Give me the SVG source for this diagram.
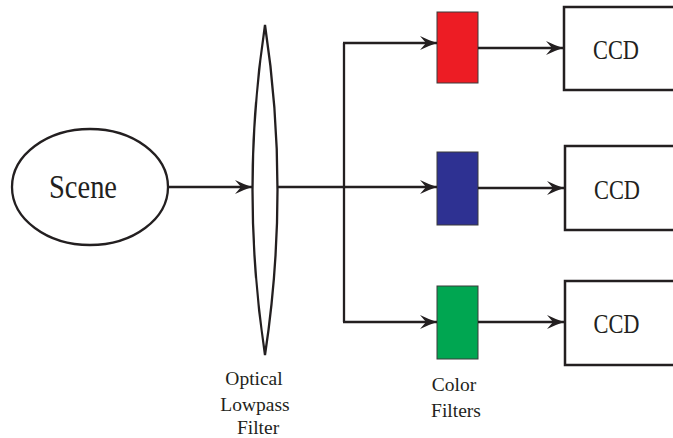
<svg xmlns="http://www.w3.org/2000/svg" width="673" height="438" viewBox="0 0 673 438">
  <style>
    .ln { fill: none; stroke: #231f20; stroke-width: 2.3; }
    .box { fill: #ffffff; stroke: #231f20; stroke-width: 2.5; }
    .flt { stroke: #3a3a3a; stroke-width: 1; }
    text { font-family: 'Liberation Serif', 'Times New Roman', serif; fill: #231f20; text-anchor: middle; }
    .lbl { font-size: 19.5px; }
  </style>
  <defs>
    <!-- barbed arrowhead shared by every connector -->
    <marker id="arrow" viewBox="-18 -8 19 16" markerWidth="19" markerHeight="16" refX="0" refY="0" orient="auto" markerUnits="userSpaceOnUse">
      <path d="M0,0 Q-9,-3 -17,-7 L-11,0 L-17,7 Q-9,3 0,0 Z" fill="#231f20"/>
    </marker>
  </defs>

  <g id="scene">
    <ellipse cx="90" cy="187" rx="78" ry="58" class="ln"/>
    <text font-size="28.5" transform="translate(83,198) scale(1,1.2)">Scene</text>
  </g>

  <g id="lens">
    <path d="M265,25 Q240,190 265,355 Q290,190 265,25 Z" class="ln"/>
    <text class="lbl" x="254" y="385">Optical</text>
    <text class="lbl" x="255" y="411">Lowpass</text>
    <text class="lbl" x="258" y="434">Filter</text>
  </g>

  <g id="filter-red">
    <rect x="437" y="12" width="41" height="71" fill="#ed1c24" class="flt"/>
  </g>
  <g id="filter-blue">
    <rect x="437" y="152" width="41" height="73" fill="#2e3192" class="flt"/>
  </g>
  <g id="filter-green">
    <rect x="437" y="286" width="41" height="73" fill="#00a651" class="flt"/>
    <text class="lbl" x="454" y="391">Color</text>
    <text class="lbl" x="456" y="417">Filters</text>
  </g>

  <g id="ccd-red">
    <rect x="564" y="7" width="120" height="83" class="box"/>
    <text font-size="22.4" transform="translate(616,59) scale(1,1.2)">CCD</text>
  </g>
  <g id="ccd-blue">
    <rect x="565" y="146" width="120" height="84" class="box"/>
    <text font-size="22.4" transform="translate(617,199) scale(1,1.2)">CCD</text>
  </g>
  <g id="ccd-green">
    <rect x="565" y="281" width="120" height="84" class="box"/>
    <text font-size="22.4" transform="translate(616.5,333) scale(1,1.2)">CCD</text>
  </g>

  <g id="connectors">
    <line x1="168" y1="187" x2="252" y2="187" class="ln" marker-end="url(#arrow)"/>
    <line x1="277" y1="187" x2="344" y2="187" class="ln"/>
    <line x1="344" y1="43" x2="344" y2="322" class="ln"/>
    <polyline points="343,43 437,43" class="ln" marker-end="url(#arrow)"/>
    <line x1="344" y1="187" x2="437" y2="187" class="ln" marker-end="url(#arrow)"/>
    <polyline points="343,322 437,322" class="ln" marker-end="url(#arrow)"/>
    <line x1="478" y1="48" x2="563" y2="48" class="ln" marker-end="url(#arrow)"/>
    <line x1="478" y1="188" x2="564" y2="188" class="ln" marker-end="url(#arrow)"/>
    <line x1="478" y1="322" x2="564" y2="322" class="ln" marker-end="url(#arrow)"/>
  </g>
</svg>
